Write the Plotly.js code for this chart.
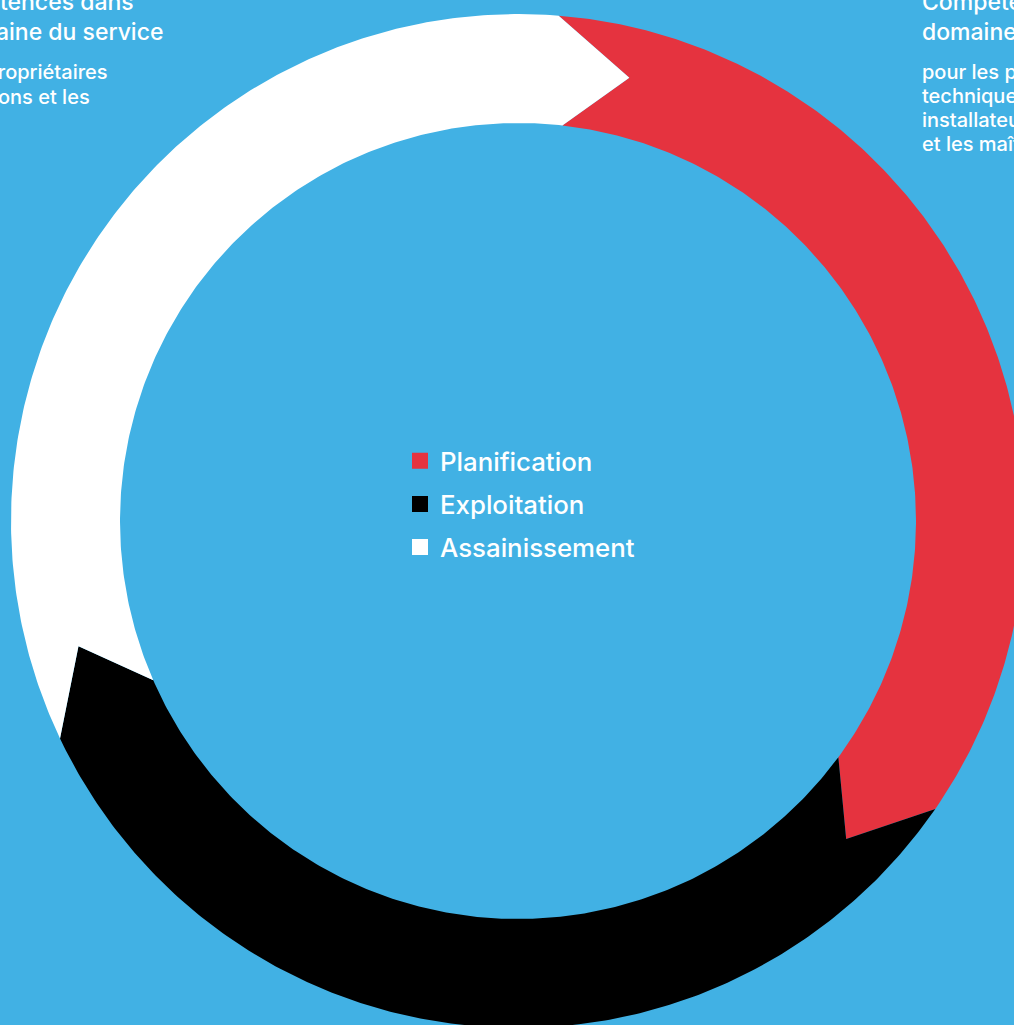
<!DOCTYPE html>
<html>
<head>
<meta charset="utf-8">
<script src="https://cdn.plot.ly/plotly-3.0.1.min.js"></script>
<style>
  html, body { margin: 0; padding: 0; background: #41B1E4; }
  #chart { width: 1014px; height: 1025px; }
</style>
</head>
<body>
<div id="chart"></div>
<script>
// ---- data ----
const categories = ['Planification', 'Exploitation', 'Assainissement'];
const values = [1, 1, 1];

// ---- style ----
const segColors = ['#E5333F', '#000000', '#FFFFFF'];
const BG = '#41B1E4';
const FONT = 'Inter, "Noto Sans", sans-serif';
const R_OUT = 507, R_IN = 398, R_MID = 457;
const START = 5.5;     // degrees clockwise from 12 o'clock
const TIP = 8.6;       // arrow tip extension in degrees
const SKEW = 0.9;      // slight tilt of arrow base

function pt(r, deg) {
  const t = deg * Math.PI / 180;
  return [r * Math.sin(t), r * Math.cos(t)];
}

const total = values.reduce((a, b) => a + b, 0);
const traces = [];
let acc = 0;
values.forEach((v, i) => {
  const a0 = START + 360 * acc / total;
  const a1 = START + 360 * (acc + v) / total;
  acc += v;
  const xs = [], ys = [];
  const push = p => { xs.push(p[0]); ys.push(p[1]); };
  const n = 240;
  for (let k = 0; k <= n; k++) push(pt(R_OUT, (a0 - SKEW) + (a1 - a0) * k / n));
  push(pt(R_MID, a1 + TIP));
  for (let k = n; k >= 0; k--) push(pt(R_IN, (a0 + SKEW) + (a1 - a0) * k / n));
  push(pt(R_MID, a0 + TIP));
  push(pt(R_OUT, a0 - SKEW));
  traces.push({
    type: 'scatter', x: xs, y: ys, mode: 'lines', fill: 'toself',
    fillcolor: segColors[i], line: { width: 0, color: segColors[i] },
    showlegend: false, hoverinfo: 'skip', name: categories[i]
  });
});
categories.forEach((c, i) => {
  traces.push({
    type: 'scatter', x: [null], y: [null], mode: 'markers', name: c,
    legendgroup: 'g' + i,
    marker: { symbol: 'square', size: 16, color: segColors[i], line: { width: 0 } },
    hoverinfo: 'skip'
  });
});

const W = 1014, H = 1025, CX = 518, CY = 521;
function ann(text, px, py, size, anchor) {
  return {
    text: text, xref: 'x', yref: 'y', x: px - CX, y: CY - py,
    xanchor: anchor, yanchor: 'bottom', showarrow: false, borderpad: 0,
    font: { family: FONT, size: size, color: '#FFFFFF', weight: 500 }
  };
}
const annotations = [
  ann('Compétences dans', 135, 17, 23, 'right'),
  ann('le domaine du service', 164, 47, 23, 'right'),
  ann('pour les propriétaires', 109, 85, 20, 'right'),
  ann("d'installations et les", 91, 110, 20, 'right'),
  ann('Compétences dans le', 921, 17, 23, 'left'),
  ann('domaine de la planification', 921, 47, 23, 'left'),
  ann('pour les planificateurs', 921, 85, 20, 'left'),
  ann('techniques du bâtiment, les', 921, 109, 20, 'left'),
  ann('installateurs sanitaires', 921, 133, 20, 'left'),
  ann("et les maîtres d'ouvrage", 921, 157, 20, 'left')
];

const layout = {
  width: W, height: H,
  margin: { l: 0, r: 0, t: 0, b: 0 },
  paper_bgcolor: BG, plot_bgcolor: BG,
  xaxis: { range: [-CX, W - CX], visible: false, fixedrange: true },
  yaxis: { range: [CY - H, CY], visible: false, fixedrange: true },
  showlegend: true,
  legend: {
    x: 400 / W, xanchor: 'left', y: 1 - 437.5 / H, yanchor: 'top',
    bgcolor: 'rgba(0,0,0,0)', font: { family: FONT, size: 25.8, color: '#FFFFFF', weight: 500 },
    tracegroupgap: 6.6, itemclick: false, itemdoubleclick: false
  },
  annotations: annotations
};

Plotly.newPlot('chart', traces, layout, { displayModeBar: false, staticPlot: true });
</script>
</body>
</html>
